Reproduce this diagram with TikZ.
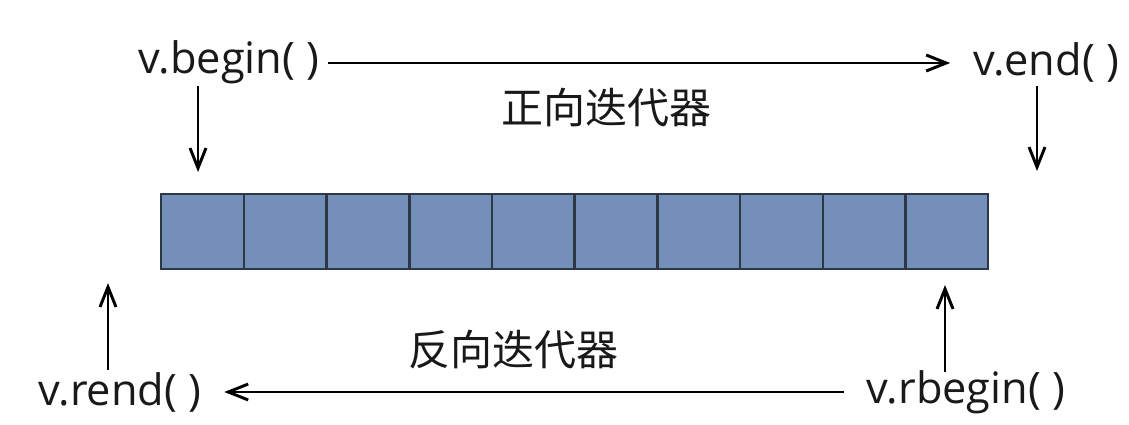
\documentclass[tikz,border=0pt]{standalone}
\usepackage{fontspec}
\setmainfont{Open Sans}
\newfontfamily\cjk{Noto Sans CJK SC}
\usepackage{tikz}
\usetikzlibrary{positioning, arrows.meta}
\definecolor{cellblue}{RGB}{116,144,186}
\definecolor{celledge}{RGB}{45,55,70}
\definecolor{txtdark}{RGB}{25,25,25}
\tikzset{
      cell/.style={
		fill=cellblue,
		draw=celledge,
		line width=1.8pt,
		minimum width=62pt,
		minimum height=56pt,
		inner sep=0pt,
	  },
  		itlabel/.style={
    	text=txtdark,
    	font=\fontsize{32.5}{36}\selectfont,
    	inner sep=0pt,
      },
  		dirlabel/.style={
    	text=txtdark,
    	font=\cjk\fontsize{31.5}{36}\selectfont,
    	inner sep=0pt,
      },
  		itarrow/.style={
    	-{Straight Barb[length=15pt,width=12pt,line width=2.2pt]},
    	line width=2.2pt,
      }
  	}

\begin{document}
\begin{tikzpicture}[x=0.75pt, y=-0.75pt]
    \useasboundingbox (0,0) rectangle (1129,425);
    % the vector
    \foreach \i in {1,...,10}
      \node [cell, anchor=north west] (c\i) at ({160+(\i-1)*82.7},193) {};
    % labels
    \node [itlabel] (begin) at (229,62) {v.begin( )};
    \node [itlabel] (end) at (1046,62) {v.end( )};
    \node [itlabel] (rend) at (120,392) {v.rend( )};
    \node [itlabel] (rbegin) at (966,392) {v.rbegin( )};
    \node [dirlabel] (fwd) at (606,108) {正向迭代器};
    \node [dirlabel] (rev) at (513,350) {反向迭代器};
    % arrow ends
    \coordinate (b0) at (198,86);
    \coordinate (b1) at (198,172);
    \coordinate (e0) at (1037,86);
    \coordinate (e1) at (1037,171);
    \coordinate (r0) at (108,370);
    \coordinate (r1) at (108,283);
    \coordinate (rb0) at (945,372);
    \coordinate (rb1) at (945,285);
    \draw [itarrow] (begin.east) ++(8,1) -- ([xshift=-17]end.west |- 0,63);
    \draw [itarrow] (rbegin.west) ++(-23,0) -- ([xshift=17]rend.east);
    \draw [itarrow] (b0) -- (b1);
    \draw [itarrow] (e0) -- (e1);
    \draw [itarrow] (r0) -- (r1);
    \draw [itarrow] (rb0) -- (rb1);
  \end{tikzpicture}
\end{document}
